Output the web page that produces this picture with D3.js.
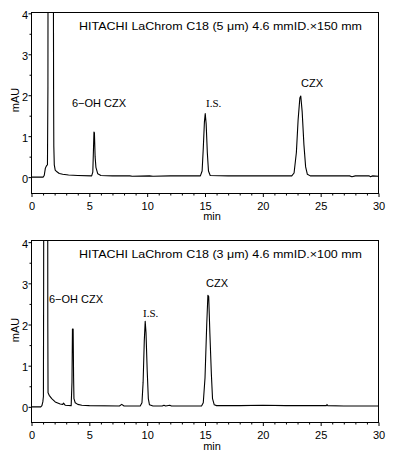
<!DOCTYPE html>
<html><head><meta charset="utf-8">
<script src="https://cdn.jsdelivr.net/npm/d3@7"></script>
<style>
html,body{margin:0;padding:0;background:#fff;}
svg{display:block;}
text{font-family:"Liberation Sans",Arial,sans-serif;font-size:11px;fill:#000;}
</style></head>
<body>
<svg id="c" width="396" height="461"></svg>
<script>
// ---- data ----
const xTicks = [0, 5, 10, 15, 20, 25, 30];
const xMinor = [1,2,3,4,6,7,8,9,11,12,13,14,16,17,18,19,21,22,23,24,26,27,28,29];
const yTicks = [0, 1, 2, 3, 4];
const yMinor = [0.5, 1.5, 2.5, 3.5];

const title1 = "HITACHI LaChrom C18 (5 μm) 4.6 mmID.×150 mm";
const title2 = "HITACHI LaChrom C18 (3 μm) 4.6 mmID.×100 mm";

const peakNames = ["6−OH CZX", "I.S.", "CZX"];

// chromatogram 1 (5 µm, 150 mm): [time (min), signal (mAU)]
const trace1 = [
  [0,0],[1.0,0],[1.1,0.04],[1.2,0.22],[1.3,0.28],[1.38,0.3],[1.42,2.2],[1.45,12],
  [1.85,12],[1.91,2],[1.93,0.75],[1.97,0.3],[2.05,0.17],[2.2,0.13],[2.4,0.09],
  [2.7,0.07],[3.2,0.05],[4.0,0.04],[5.2,0.03],[5.3,0.12],[5.36,0.7],[5.4,1.1],
  [5.44,1.08],[5.5,0.5],[5.57,0.24],[5.73,0.08],[6.0,0.04],[7.0,0.03],[8.5,0.03],
  [8.7,0.02],[10.2,0.03],[10.5,0.02],[12.0,0.03],[14.0,0.03],[14.6,0.03],[14.75,0.15],
  [14.85,0.7],[14.95,1.35],[15.02,1.55],[15.1,1.3],[15.2,0.6],[15.3,0.15],[15.45,0.04],
  [17.0,0.03],[19.0,0.03],[21.0,0.03],[22.5,0.03],[22.7,0.1],[22.9,0.6],[23.05,1.4],
  [23.2,1.93],[23.28,1.98],[23.4,1.6],[23.55,0.8],[23.7,0.25],[23.85,0.07],[24.1,0.03],
  [26.0,0.03],[27.5,0.03],[27.7,0.01],[28.0,0.03],[29.2,0.03],[29.3,0.01],[29.5,0.03],[30,0.02]
];

// chromatogram 2 (3 µm, 100 mm)
const trace2 = [
  [0,0],[0.8,0],[0.9,0.03],[0.98,0.12],[1.03,0.25],[1.05,3],[1.08,12],
  [1.38,12],[1.41,2],[1.43,0.34],[1.53,0.28],[1.75,0.2],[2.05,0.12],[2.48,0.07],
  [2.7,0.06],[2.77,0.09],[2.91,0.04],[3.43,0.03],[3.5,0.6],[3.54,1.89],[3.6,1.89],
  [3.64,0.7],[3.67,0.2],[3.78,0.1],[4.0,0.06],[4.35,0.04],[5.0,0.03],[7.6,0.02],
  [7.8,0.06],[8.0,0.02],[9.4,0.02],[9.55,0.1],[9.65,0.6],[9.75,1.6],[9.83,2.08],
  [9.9,1.8],[10.0,0.9],[10.1,0.2],[10.2,0.05],[10.5,0.02],[11.3,0.02],[11.45,0.04],
  [11.6,0.02],[11.95,0.04],[12.1,0.02],[14.7,0.02],[14.85,0.1],[15.0,0.7],[15.15,2.0],
  [15.25,2.71],[15.32,2.68],[15.42,1.8],[15.55,0.8],[15.65,0.2],[15.8,0.05],[16.0,0.03],
  [18.0,0.03],[20.0,0.04],[22.0,0.03],[24.0,0.03],[25.5,0.03],[25.55,0.06],[25.6,0.03],
  [27.0,0.02],[30,0.02]
];

// ---- layout ----
const svg = d3.select("#c");
const L = 31.5, R = 378.5;

const panels = [
  {trace: trace1, title: title1, top: 12.5, bottom: 193.5, yDom: [-0.4, 4.02],
   labels: [[72, 107], [206, 107], [301, 87]], titleXY: [79, 30], mAUy: 100, minY: 220},
  {trace: trace2, title: title2, top: 240.5, bottom: 422.5, yDom: [-0.38, 4.04],
   labels: [[49, 302.5], [143, 317], [206, 287]], titleXY: [79, 258], mAUy: 330, minY: 450}
];

panels.forEach((p, i) => {
  const x = d3.scaleLinear().domain([0, 30]).range([L, R]);
  const y = d3.scaleLinear().domain(p.yDom).range([p.bottom, p.top]);
  const g = svg.append("g");

  const clipId = "clip" + i;
  svg.append("defs").append("clipPath").attr("id", clipId)
    .append("rect").attr("x", L).attr("y", p.top).attr("width", R - L).attr("height", p.bottom - p.top);

  // trace
  g.append("path")
    .datum(p.trace)
    .attr("clip-path", `url(#${clipId})`)
    .attr("fill", "none").attr("stroke", "#000").attr("stroke-width", 1.1)
    .attr("stroke-linejoin", "round")
    .attr("d", d3.line().x(d => x(d[0])).y(d => y(d[1])));

  // box
  g.append("rect").attr("x", L).attr("y", p.top).attr("width", R - L).attr("height", p.bottom - p.top)
    .attr("fill", "none").attr("stroke", "#000").attr("stroke-width", 1);

  // x axis
  const xa = g.append("g").attr("transform", `translate(0,${p.bottom})`)
    .call(d3.axisBottom(x).tickValues(xTicks).tickSize(3.5).tickSizeOuter(0).tickFormat(d3.format("d")));
  xa.select(".domain").remove();
  xa.selectAll("text").attr("y", 16).attr("dy", null).style("font-family", '"Liberation Sans",Arial,sans-serif').style("font-size", "11px");
  const xm = g.append("g").attr("transform", `translate(0,${p.bottom})`)
    .call(d3.axisBottom(x).tickValues(xMinor).tickSize(2).tickSizeOuter(0).tickFormat(""));
  xm.select(".domain").remove();

  // y axis
  const ya = g.append("g").attr("transform", `translate(${L},0)`)
    .call(d3.axisLeft(y).tickValues(yTicks).tickSize(3).tickSizeOuter(0).tickFormat(d3.format("d")));
  ya.select(".domain").remove();
  ya.selectAll("text").attr("x", -3.5).attr("dy", "0.45em").style("font-family", '"Liberation Sans",Arial,sans-serif').style("font-size", "11px");
  const ym = g.append("g").attr("transform", `translate(${L},0)`)
    .call(d3.axisLeft(y).tickValues(yMinor).tickSize(2).tickSizeOuter(0).tickFormat(""));
  ym.select(".domain").remove();

  // axis titles
  g.append("text").attr("transform", `translate(19,${p.mAUy}) rotate(-90)`)
    .attr("text-anchor", "middle").text("mAU");
  g.append("text").attr("x", 212).attr("y", p.minY).attr("text-anchor", "middle").text("min");

  // column title
  g.append("text").attr("x", p.titleXY[0]).attr("y", p.titleXY[1])
    .attr("textLength", 283).attr("lengthAdjust", "spacingAndGlyphs").text(p.title);

  // peak labels
  p.labels.forEach((pos, k) => {
    const t = g.append("text").attr("x", pos[0]).attr("y", pos[1]).text(peakNames[k]);
    if (k === 1) t.style("font-family", '"Liberation Serif","Times New Roman",serif').style("font-size", "11px");
  });
});
</script>
</body></html>
